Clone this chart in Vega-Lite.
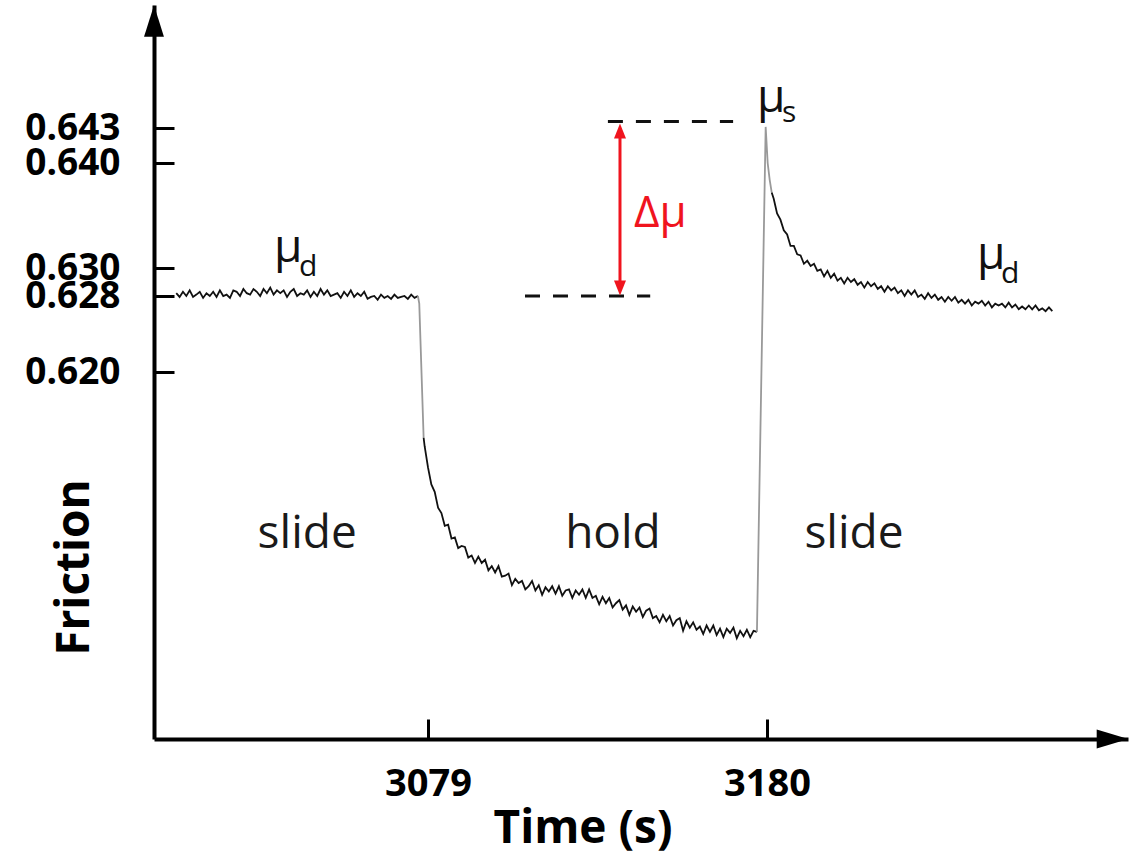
{
  "$schema": "https://vega.github.io/schema/vega-lite/v6.json",
  "autosize": "none",
  "width": 974,
  "height": 734,
  "padding": {"left": 154, "top": 5, "right": 12, "bottom": 118},
  "background": "white",
  "config": {"view": {"stroke": null}, "axis": {"grid": false}, "font": "Open Sans"},
  "datasets": {
    "trace": [
      {"time":3004,"friction":0.6282,"seg":"a"},{"time":3005,"friction":0.6279,"seg":"a"},{"time":3006,"friction":0.6283,"seg":"a"},{"time":3007,"friction":0.6280,"seg":"a"},{"time":3008,"friction":0.6284,"seg":"a"},{"time":3009,"friction":0.6279,"seg":"a"},{"time":3010,"friction":0.6281,"seg":"a"},{"time":3011,"friction":0.6283,"seg":"a"},{"time":3012,"friction":0.6278,"seg":"a"},{"time":3013,"friction":0.6282,"seg":"a"},
      {"time":3014,"friction":0.6280,"seg":"a"},{"time":3015,"friction":0.6283,"seg":"a"},{"time":3016,"friction":0.6279,"seg":"a"},{"time":3017,"friction":0.6284,"seg":"a"},{"time":3018,"friction":0.6280,"seg":"a"},{"time":3019,"friction":0.6281,"seg":"a"},{"time":3020,"friction":0.6278,"seg":"a"},{"time":3021,"friction":0.6284,"seg":"a"},{"time":3022,"friction":0.6283,"seg":"a"},{"time":3023,"friction":0.6280,"seg":"a"},
      {"time":3024,"friction":0.6285,"seg":"a"},{"time":3025,"friction":0.6282,"seg":"a"},{"time":3026,"friction":0.6281,"seg":"a"},{"time":3027,"friction":0.6285,"seg":"a"},{"time":3028,"friction":0.6283,"seg":"a"},{"time":3029,"friction":0.6280,"seg":"a"},{"time":3030,"friction":0.6285,"seg":"a"},{"time":3031,"friction":0.6282,"seg":"a"},{"time":3032,"friction":0.6286,"seg":"a"},{"time":3033,"friction":0.6281,"seg":"a"},
      {"time":3034,"friction":0.6284,"seg":"a"},{"time":3035,"friction":0.6282,"seg":"a"},{"time":3036,"friction":0.6284,"seg":"a"},{"time":3037,"friction":0.6279,"seg":"a"},{"time":3038,"friction":0.6283,"seg":"a"},{"time":3039,"friction":0.6285,"seg":"a"},{"time":3040,"friction":0.6280,"seg":"a"},{"time":3041,"friction":0.6282,"seg":"a"},{"time":3042,"friction":0.6281,"seg":"a"},{"time":3043,"friction":0.6284,"seg":"a"},
      {"time":3044,"friction":0.6279,"seg":"a"},{"time":3045,"friction":0.6283,"seg":"a"},{"time":3046,"friction":0.6280,"seg":"a"},{"time":3047,"friction":0.6285,"seg":"a"},{"time":3048,"friction":0.6281,"seg":"a"},{"time":3049,"friction":0.6284,"seg":"a"},{"time":3050,"friction":0.6280,"seg":"a"},{"time":3051,"friction":0.6281,"seg":"a"},{"time":3052,"friction":0.6282,"seg":"a"},{"time":3053,"friction":0.6278,"seg":"a"},
      {"time":3054,"friction":0.6283,"seg":"a"},{"time":3055,"friction":0.6280,"seg":"a"},{"time":3056,"friction":0.6284,"seg":"a"},{"time":3057,"friction":0.6279,"seg":"a"},{"time":3058,"friction":0.6282,"seg":"a"},{"time":3059,"friction":0.6280,"seg":"a"},{"time":3060,"friction":0.6283,"seg":"a"},{"time":3061,"friction":0.6277,"seg":"a"},{"time":3062,"friction":0.6279,"seg":"a"},{"time":3063,"friction":0.6280,"seg":"a"},
      {"time":3064,"friction":0.6276,"seg":"a"},{"time":3065,"friction":0.6281,"seg":"a"},{"time":3066,"friction":0.6278,"seg":"a"},{"time":3067,"friction":0.6280,"seg":"a"},{"time":3068,"friction":0.6277,"seg":"a"},{"time":3069,"friction":0.6281,"seg":"a"},{"time":3070,"friction":0.6278,"seg":"a"},{"time":3071,"friction":0.6279,"seg":"a"},{"time":3072,"friction":0.6280,"seg":"a"},{"time":3073,"friction":0.6277,"seg":"a"},
      {"time":3074,"friction":0.6281,"seg":"a"},{"time":3075,"friction":0.6278,"seg":"a"},{"time":3076,"friction":0.6280,"seg":"a"},
      {"time":3076,"friction":0.6280,"seg":"b"},{"time":3076.4,"friction":0.6272,"seg":"b"},{"time":3077.7,"friction":0.6138,"seg":"b"},
      {"time":3077.7,"friction":0.6138,"seg":"c"},{"time":3078,"friction":0.6130,"seg":"c"},{"time":3079,"friction":0.6110,"seg":"c"},{"time":3080,"friction":0.6094,"seg":"c"},{"time":3081,"friction":0.6087,"seg":"c"},{"time":3082,"friction":0.6072,"seg":"c"},{"time":3083,"friction":0.6067,"seg":"c"},{"time":3084,"friction":0.6055,"seg":"c"},{"time":3085,"friction":0.6056,"seg":"c"},{"time":3086,"friction":0.6043,"seg":"c"},
      {"time":3087,"friction":0.6044,"seg":"c"},{"time":3088,"friction":0.6034,"seg":"c"},{"time":3089,"friction":0.6036,"seg":"c"},{"time":3090,"friction":0.6035,"seg":"c"},{"time":3091,"friction":0.6025,"seg":"c"},{"time":3092,"friction":0.6027,"seg":"c"},{"time":3093,"friction":0.6020,"seg":"c"},{"time":3094,"friction":0.6026,"seg":"c"},{"time":3095,"friction":0.6020,"seg":"c"},{"time":3096,"friction":0.6023,"seg":"c"},
      {"time":3097,"friction":0.6013,"seg":"c"},{"time":3098,"friction":0.6017,"seg":"c"},{"time":3099,"friction":0.6011,"seg":"c"},{"time":3100,"friction":0.6017,"seg":"c"},{"time":3101,"friction":0.6007,"seg":"c"},{"time":3102,"friction":0.6008,"seg":"c"},{"time":3103,"friction":0.6010,"seg":"c"},{"time":3104,"friction":0.5999,"seg":"c"},{"time":3105,"friction":0.6005,"seg":"c"},{"time":3106,"friction":0.6001,"seg":"c"},
      {"time":3107,"friction":0.6003,"seg":"c"},{"time":3108,"friction":0.5995,"seg":"c"},{"time":3109,"friction":0.5998,"seg":"c"},{"time":3110,"friction":0.6003,"seg":"c"},{"time":3111,"friction":0.5994,"seg":"c"},{"time":3112,"friction":0.5999,"seg":"c"},{"time":3113,"friction":0.5990,"seg":"c"},{"time":3114,"friction":0.5997,"seg":"c"},{"time":3115,"friction":0.5993,"seg":"c"},{"time":3116,"friction":0.5998,"seg":"c"},
      {"time":3117,"friction":0.5991,"seg":"c"},{"time":3118,"friction":0.5998,"seg":"c"},{"time":3119,"friction":0.5989,"seg":"c"},{"time":3120,"friction":0.5994,"seg":"c"},{"time":3121,"friction":0.5995,"seg":"c"},{"time":3122,"friction":0.5987,"seg":"c"},{"time":3123,"friction":0.5994,"seg":"c"},{"time":3124,"friction":0.5990,"seg":"c"},{"time":3125,"friction":0.5995,"seg":"c"},{"time":3126,"friction":0.5987,"seg":"c"},
      {"time":3127,"friction":0.5995,"seg":"c"},{"time":3128,"friction":0.5987,"seg":"c"},{"time":3129,"friction":0.5989,"seg":"c"},{"time":3130,"friction":0.5981,"seg":"c"},{"time":3131,"friction":0.5988,"seg":"c"},{"time":3132,"friction":0.5982,"seg":"c"},{"time":3133,"friction":0.5987,"seg":"c"},{"time":3134,"friction":0.5978,"seg":"c"},{"time":3135,"friction":0.5982,"seg":"c"},{"time":3136,"friction":0.5985,"seg":"c"},
      {"time":3137,"friction":0.5976,"seg":"c"},{"time":3138,"friction":0.5980,"seg":"c"},{"time":3139,"friction":0.5971,"seg":"c"},{"time":3140,"friction":0.5979,"seg":"c"},{"time":3141,"friction":0.5974,"seg":"c"},{"time":3142,"friction":0.5978,"seg":"c"},{"time":3143,"friction":0.5969,"seg":"c"},{"time":3144,"friction":0.5975,"seg":"c"},{"time":3145,"friction":0.5977,"seg":"c"},{"time":3146,"friction":0.5968,"seg":"c"},
      {"time":3147,"friction":0.5970,"seg":"c"},{"time":3148,"friction":0.5964,"seg":"c"},{"time":3149,"friction":0.5971,"seg":"c"},{"time":3150,"friction":0.5965,"seg":"c"},{"time":3151,"friction":0.5970,"seg":"c"},{"time":3152,"friction":0.5961,"seg":"c"},{"time":3153,"friction":0.5966,"seg":"c"},{"time":3154,"friction":0.5968,"seg":"c"},{"time":3155,"friction":0.5956,"seg":"c"},{"time":3156,"friction":0.5965,"seg":"c"},
      {"time":3157,"friction":0.5959,"seg":"c"},{"time":3158,"friction":0.5964,"seg":"c"},{"time":3159,"friction":0.5957,"seg":"c"},{"time":3160,"friction":0.5960,"seg":"c"},{"time":3161,"friction":0.5953,"seg":"c"},{"time":3162,"friction":0.5961,"seg":"c"},{"time":3163,"friction":0.5955,"seg":"c"},{"time":3164,"friction":0.5961,"seg":"c"},{"time":3165,"friction":0.5952,"seg":"c"},{"time":3166,"friction":0.5958,"seg":"c"},
      {"time":3167,"friction":0.5950,"seg":"c"},{"time":3168,"friction":0.5958,"seg":"c"},{"time":3169,"friction":0.5954,"seg":"c"},{"time":3170,"friction":0.5959,"seg":"c"},{"time":3171,"friction":0.5949,"seg":"c"},{"time":3172,"friction":0.5956,"seg":"c"},{"time":3173,"friction":0.5951,"seg":"c"},{"time":3174,"friction":0.5957,"seg":"c"},{"time":3175,"friction":0.5950,"seg":"c"},{"time":3176,"friction":0.5956,"seg":"c"},
      {"time":3177,"friction":0.5955,"seg":"c"},
      {"time":3177,"friction":0.5955,"seg":"d"},{"time":3179.6,"friction":0.6431,"seg":"d"},{"time":3180.2,"friction":0.6400,"seg":"d"},{"time":3180.8,"friction":0.6384,"seg":"d"},{"time":3181.4,"friction":0.6372,"seg":"d"},
      {"time":3181.4,"friction":0.6372,"seg":"e"},{"time":3182,"friction":0.6366,"seg":"e"},{"time":3183,"friction":0.6352,"seg":"e"},{"time":3184,"friction":0.6346,"seg":"e"},{"time":3185,"friction":0.6336,"seg":"e"},{"time":3186,"friction":0.6332,"seg":"e"},{"time":3187,"friction":0.6321,"seg":"e"},{"time":3188,"friction":0.6321,"seg":"e"},{"time":3189,"friction":0.6313,"seg":"e"},{"time":3190,"friction":0.6312,"seg":"e"},
      {"time":3191,"friction":0.6304,"seg":"e"},{"time":3192,"friction":0.6307,"seg":"e"},{"time":3193,"friction":0.6302,"seg":"e"},{"time":3194,"friction":0.6304,"seg":"e"},{"time":3195,"friction":0.6298,"seg":"e"},{"time":3196,"friction":0.6299,"seg":"e"},{"time":3197,"friction":0.6294,"seg":"e"},{"time":3198,"friction":0.6298,"seg":"e"},{"time":3199,"friction":0.6293,"seg":"e"},{"time":3200,"friction":0.6296,"seg":"e"},
      {"time":3201,"friction":0.6291,"seg":"e"},{"time":3202,"friction":0.6293,"seg":"e"},{"time":3203,"friction":0.6289,"seg":"e"},{"time":3204,"friction":0.6293,"seg":"e"},{"time":3205,"friction":0.6290,"seg":"e"},{"time":3206,"friction":0.6292,"seg":"e"},{"time":3207,"friction":0.6288,"seg":"e"},{"time":3208,"friction":0.6290,"seg":"e"},{"time":3209,"friction":0.6286,"seg":"e"},{"time":3210,"friction":0.6290,"seg":"e"},
      {"time":3211,"friction":0.6287,"seg":"e"},{"time":3212,"friction":0.6289,"seg":"e"},{"time":3213,"friction":0.6285,"seg":"e"},{"time":3214,"friction":0.6287,"seg":"e"},{"time":3215,"friction":0.6283,"seg":"e"},{"time":3216,"friction":0.6287,"seg":"e"},{"time":3217,"friction":0.6284,"seg":"e"},{"time":3218,"friction":0.6286,"seg":"e"},{"time":3219,"friction":0.6282,"seg":"e"},{"time":3220,"friction":0.6284,"seg":"e"},
      {"time":3221,"friction":0.6280,"seg":"e"},{"time":3222,"friction":0.6284,"seg":"e"},{"time":3223,"friction":0.6281,"seg":"e"},{"time":3224,"friction":0.6284,"seg":"e"},{"time":3225,"friction":0.6279,"seg":"e"},{"time":3226,"friction":0.6281,"seg":"e"},{"time":3227,"friction":0.6277,"seg":"e"},{"time":3228,"friction":0.6282,"seg":"e"},{"time":3229,"friction":0.6278,"seg":"e"},{"time":3230,"friction":0.6281,"seg":"e"},
      {"time":3231,"friction":0.6276,"seg":"e"},{"time":3232,"friction":0.6279,"seg":"e"},{"time":3233,"friction":0.6274,"seg":"e"},{"time":3234,"friction":0.6279,"seg":"e"},{"time":3235,"friction":0.6275,"seg":"e"},{"time":3236,"friction":0.6279,"seg":"e"},{"time":3237,"friction":0.6273,"seg":"e"},{"time":3238,"friction":0.6276,"seg":"e"},{"time":3239,"friction":0.6272,"seg":"e"},{"time":3240,"friction":0.6276,"seg":"e"},
      {"time":3241,"friction":0.6270,"seg":"e"},{"time":3242,"friction":0.6274,"seg":"e"},{"time":3243,"friction":0.6272,"seg":"e"},{"time":3244,"friction":0.6275,"seg":"e"},{"time":3245,"friction":0.6270,"seg":"e"},{"time":3246,"friction":0.6274,"seg":"e"},{"time":3247,"friction":0.6268,"seg":"e"},{"time":3248,"friction":0.6272,"seg":"e"},{"time":3249,"friction":0.6270,"seg":"e"},{"time":3250,"friction":0.6272,"seg":"e"},
      {"time":3251,"friction":0.6268,"seg":"e"},{"time":3252,"friction":0.6273,"seg":"e"},{"time":3253,"friction":0.6268,"seg":"e"},{"time":3254,"friction":0.6271,"seg":"e"},{"time":3255,"friction":0.6266,"seg":"e"},{"time":3256,"friction":0.6269,"seg":"e"},{"time":3257,"friction":0.6266,"seg":"e"},{"time":3258,"friction":0.6270,"seg":"e"},{"time":3259,"friction":0.6266,"seg":"e"},{"time":3260,"friction":0.6270,"seg":"e"},
      {"time":3261,"friction":0.6265,"seg":"e"},{"time":3262,"friction":0.6267,"seg":"e"},{"time":3263,"friction":0.6264,"seg":"e"},{"time":3264,"friction":0.6268,"seg":"e"},{"time":3265,"friction":0.6264,"seg":"e"}
    ],
    "dashes": [
      {"time": 3132.6, "time_end": 3169.9, "friction": 0.6436},
      {"time": 3107.9, "time_end": 3145.2, "friction": 0.6280}
    ],
    "delta": [{"time": 3136.2, "friction": 0.6427, "friction_end": 0.6286}],
    "deltaUp": [{"time": 3136.2, "friction": 0.64274}],
    "deltaDown": [{"time": 3136.2, "friction": 0.62857}],
    "yArrow": [{"time": 2997.37, "friction": 0.65281}],
    "xArrow": [{"time": 3282.94, "friction": 0.5854}],
    "mu": [
      {"time": 3033.1, "friction": 0.6306, "label": "μ"},
      {"time": 3177.0, "friction": 0.6445, "label": "μ"},
      {"time": 3242.6, "friction": 0.6299, "label": "μ"}
    ],
    "sub": [
      {"time": 3040.6, "friction": 0.6294, "label": "d"},
      {"time": 3184.5, "friction": 0.64355, "label": "s"},
      {"time": 3249.7, "friction": 0.6289, "label": "d"}
    ],
    "dmu": [{"time": 3140.4, "friction": 0.6339, "label": "Δμ"}],
    "phase": [
      {"time": 3043.0, "friction": 0.6034, "label": "slide"},
      {"time": 3134.1, "friction": 0.6034, "label": "hold"},
      {"time": 3205.9, "friction": 0.6034, "label": "slide"}
    ]
  },
  "encoding": {
    "x": {
      "field": "time", "type": "quantitative",
      "scale": {"domain": [2997.37, 3287.55], "nice": false, "zero": false},
      "axis": {
        "values": [3079, 3180], "format": "d",
        "title": "Time (s)", "titleFont": "Open Sans", "titleFontSize": 46, "titleFontWeight": "bold", "titleColor": "#000",
        "titleX": 428.5, "titleY": 103, "titleAlign": "center", "titleBaseline": "alphabetic",
        "labelFont": "Open Sans", "labelFontSize": 38, "labelFontWeight": "bold", "labelColor": "#000",
        "labelPadding": 46, "labelFlush": false, "labelOverlap": false,
        "tickSize": -20, "tickWidth": 3, "tickColor": "#000",
        "domainColor": "#000", "domainWidth": 4
      }
    },
    "y": {
      "field": "friction", "type": "quantitative",
      "scale": {
        "domain": [0.5854, 0.620, 0.628, 0.630, 0.640, 0.643, 0.65428],
        "range": [734, 367, 291, 263, 158, 123, 0],
        "nice": false, "zero": false
      },
      "axis": {
        "values": [0.620, 0.628, 0.630, 0.640, 0.643], "format": ".3f",
        "title": "Friction", "titleFont": "Open Sans", "titleFontSize": 46, "titleFontWeight": "bold", "titleColor": "#000",
        "titleX": -66, "titleY": 562, "titleAngle": -90, "titleAlign": "center", "titleBaseline": "alphabetic",
        "labelFont": "Open Sans", "labelFontSize": 37, "labelFontWeight": "bold", "labelColor": "#000",
        "labelPadding": 54, "labelOverlap": false, "labelFlush": false,
        "tickSize": -20, "tickWidth": 3, "tickColor": "#000",
        "domainColor": "#000", "domainWidth": 4
      }
    }
  },
  "layer": [
    {
      "data": {"name": "trace"},
      "mark": {"type": "line", "strokeWidth": 1.8, "strokeJoin": "miter"},
      "encoding": {
        "color": {"field": "seg", "type": "nominal", "legend": null,
          "scale": {"domain": ["a", "b", "c", "d", "e"], "range": ["#111111", "#999999", "#111111", "#999999", "#111111"]}}
      }
    },
    {
      "data": {"name": "dashes"},
      "mark": {"type": "rule", "strokeDash": [15, 13], "strokeWidth": 3, "color": "#111111"},
      "encoding": {"x2": {"field": "time_end"}}
    },
    {
      "data": {"name": "delta"},
      "mark": {"type": "rule", "strokeWidth": 3, "color": "#f0141e"},
      "encoding": {"y2": {"field": "friction_end"}}
    },
    {
      "data": {"name": "deltaUp"},
      "mark": {"type": "point", "shape": "M0,-1L0.8,1L-0.8,1Z", "size": 225, "filled": true, "opacity": 1, "color": "#f0141e"}
    },
    {
      "data": {"name": "deltaDown"},
      "mark": {"type": "point", "shape": "M0,1L0.8,-1L-0.8,-1Z", "size": 225, "filled": true, "opacity": 1, "color": "#f0141e"}
    },
    {
      "data": {"name": "yArrow"},
      "mark": {"type": "point", "shape": "M0,-1L0.63,1L-0.63,1Z", "size": 1000, "filled": true, "opacity": 1, "color": "#000"}
    },
    {
      "data": {"name": "xArrow"},
      "mark": {"type": "point", "shape": "M1,0L-1,0.6L-1,-0.6Z", "size": 1000, "filled": true, "opacity": 1, "color": "#000"}
    },
    {
      "data": {"name": "mu"},
      "mark": {"type": "text", "font": "Open Sans", "fontSize": 46, "fontWeight": 500, "align": "left", "baseline": "alphabetic", "color": "#111111"},
      "encoding": {"text": {"field": "label"}}
    },
    {
      "data": {"name": "sub"},
      "mark": {"type": "text", "font": "Open Sans", "fontSize": 30, "fontWeight": 500, "align": "left", "baseline": "alphabetic", "color": "#111111"},
      "encoding": {"text": {"field": "label"}}
    },
    {
      "data": {"name": "dmu"},
      "mark": {"type": "text", "font": "Open Sans", "fontSize": 44, "align": "left", "baseline": "alphabetic", "color": "#f0141e"},
      "encoding": {"text": {"field": "label"}}
    },
    {
      "data": {"name": "phase"},
      "mark": {"type": "text", "font": "Open Sans", "fontSize": 46, "align": "center", "baseline": "alphabetic", "color": "#1a1a1a"},
      "encoding": {"text": {"field": "label"}}
    }
  ]
}
